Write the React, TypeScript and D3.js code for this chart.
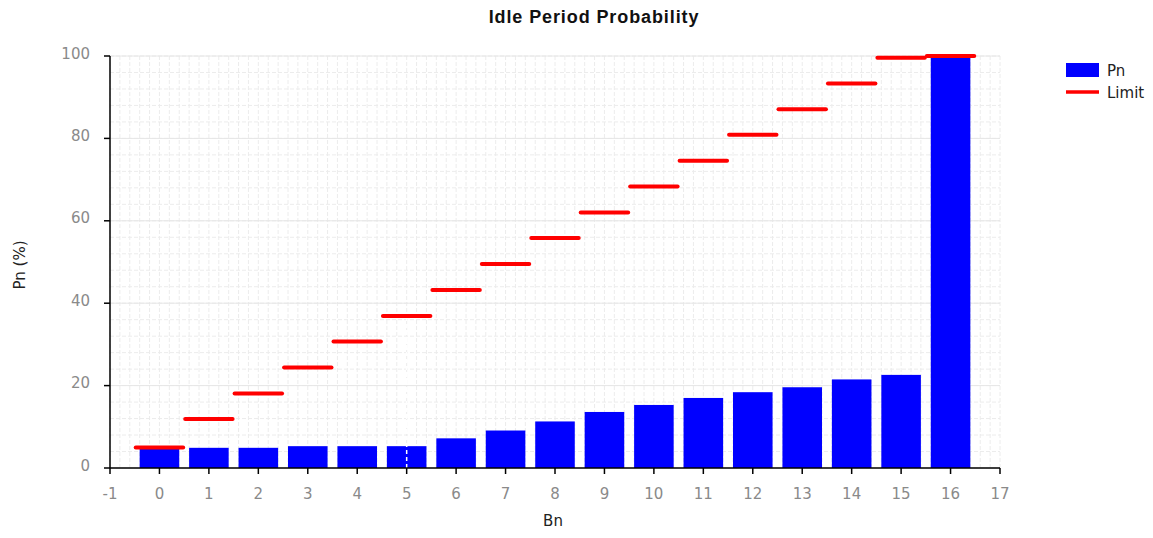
import React from "react";
import * as d3 from "d3";

const categories = [0, 1, 2, 3, 4, 5, 6, 7, 8, 9, 10, 11, 12, 13, 14, 15, 16];
const pnValues = [5.0, 4.9, 4.9, 5.3, 5.3, 5.3, 7.2, 9.1, 11.3, 13.6, 15.3, 17.0, 18.4, 19.6, 21.5, 22.6, 100];
const limitValues = [5.0, 11.9, 18.1, 24.4, 30.7, 36.9, 43.2, 49.5, 55.8, 62.0, 68.3, 74.6, 80.9, 87.1, 93.3, 99.6, 100];
const xTicks = [-1, 0, 1, 2, 3, 4, 5, 6, 7, 8, 9, 10, 11, 12, 13, 14, 15, 16, 17];
const yTicks = [0, 20, 40, 60, 80, 100];
const cursorAt = 5;

export default function App() {
  const W = 1153, H = 538;
  const x = d3.scaleLinear().domain([-1, 17]).range([110, 1000]);
  const y = d3.scaleLinear().domain([0, 100]).range([468, 56]);
  const font = "'DejaVu Sans', sans-serif";
  const titleFont = "'Liberation Sans', Arial, sans-serif";
  const tickColor = "#8a8a8a";

  const minorX = d3.range(-1, 17.0001, 0.2);
  const minorY = d3.range(0, 100.0001, 4);
  const barW = (x(1) - x(0)) * 0.8;

  return (
    <svg width={W} height={H} style={{ position: "absolute", left: 0, top: 0, background: "#fff" }}>
      <text x={594} y={23} textAnchor="middle" fontFamily={titleFont} fontWeight="bold" fontSize={18} letterSpacing={0.9} fill="#111">
        Idle Period Probability
      </text>
      {/* grid */}
      <g>
        {minorX.map((v, i) => (
          <line key={"gx" + i} x1={x(v)} x2={x(v)} y1={y(0)} y2={y(100)} stroke="#ececec" strokeWidth={1} strokeDasharray="4,2" />
        ))}
        {minorY.map((v, i) => (
          <line key={"gy" + i} x1={x(-1)} x2={x(17)} y1={y(v)} y2={y(v)} stroke="#ececec" strokeWidth={1} strokeDasharray="4,2" />
        ))}
        {yTicks.map((v) => (
          <line key={"my" + v} x1={x(-1)} x2={x(17)} y1={y(v)} y2={y(v)} stroke="#e6e6e6" strokeWidth={1} />
        ))}
      </g>
      {/* bars */}
      {categories.map((c, i) => (
        <rect key={"b" + c} x={x(c) - barW / 2} y={y(pnValues[i])} width={barW} height={y(0) - y(pnValues[i])} fill="#0000ff" />
      ))}
      {/* cursor line */}
      <line x1={x(cursorAt)} x2={x(cursorAt)} y1={y(0)} y2={y(limitValues[cursorAt]) - 3} stroke="#fff" strokeWidth={1.5} strokeDasharray="4,3" />
      {/* limits */}
      {categories.map((c, i) => (
        <line key={"l" + c} x1={x(c - 0.5) + 1} x2={x(c + 0.5) - 1} y1={y(limitValues[i])} y2={y(limitValues[i])} stroke="#ff0000" strokeWidth={4} strokeLinecap="round" />
      ))}
      {/* axes */}
      <line x1={x(-1)} x2={x(-1)} y1={y(100)} y2={y(0)} stroke="#000" strokeWidth={1.5} />
      <line x1={x(-1)} x2={x(17)} y1={y(0)} y2={y(0)} stroke="#000" strokeWidth={1.5} />
      {xTicks.map((t) => (
        <g key={"xt" + t}>
          <line x1={x(t)} x2={x(t)} y1={y(0)} y2={y(0) + 6} stroke="#000" strokeWidth={1.5} />
          <text x={x(t)} y={y(0) + 31} textAnchor="middle" fontFamily={font} fontSize={15} fill={tickColor}>{t}</text>
        </g>
      ))}
      {yTicks.map((t) => (
        <g key={"yt" + t}>
          <line x1={x(-1) - 6} x2={x(-1)} y1={y(t)} y2={y(t)} stroke="#000" strokeWidth={1.5} />
          <text x={x(-1) - 20} y={y(t) + 2.5} textAnchor="end" fontFamily={font} fontSize={15} fill={tickColor}>{t}</text>
        </g>
      ))}
      <text x={553} y={526} textAnchor="middle" fontFamily={font} fontSize={15} fill="#222">Bn</text>
      <text transform={`translate(25,265) rotate(-90)`} textAnchor="middle" fontFamily={font} fontSize={15} fill="#222">Pn (%)</text>
      {/* legend */}
      <rect x={1066} y={63} width={33} height={14} fill="#0000ff" />
      <text x={1107} y={76} fontFamily={font} fontSize={15} fill="#222">Pn</text>
      <line x1={1066} x2={1099} y1={92} y2={92} stroke="#ff0000" strokeWidth={3.5} />
      <text x={1107} y={98} fontFamily={font} fontSize={15} fill="#222">Limit</text>
    </svg>
  );
}
